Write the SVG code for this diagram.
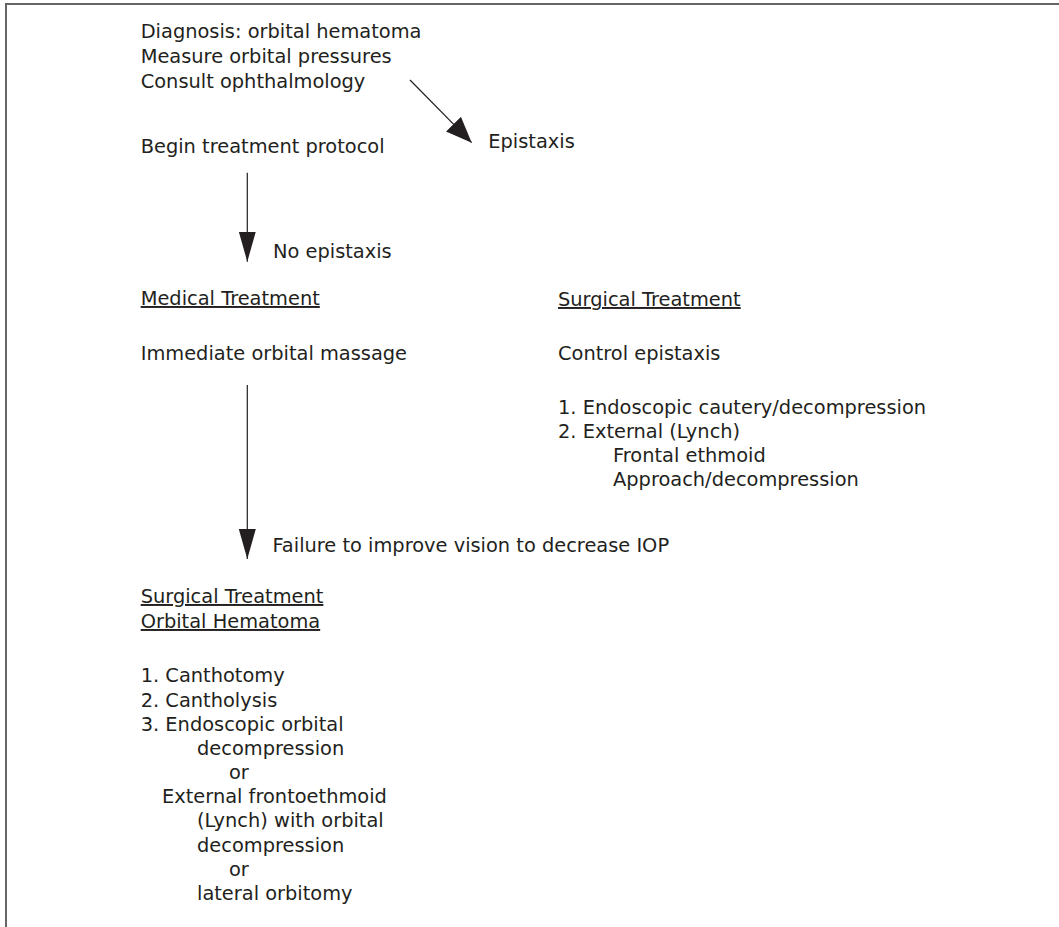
<svg xmlns="http://www.w3.org/2000/svg" width="1059" height="927" viewBox="0 0 1059 927">
<style>
text{font-family:"DejaVu Sans","Noto Sans",sans-serif;font-size:19.4px;fill:#231f20}
.u{text-decoration:underline}
.conn line{stroke:#231f20;stroke-width:1.2}
.head{fill:#231f20}
</style>
<defs>
<marker id="ah" markerUnits="userSpaceOnUse" markerWidth="30" markerHeight="18" refX="30" refY="8.5" orient="auto">
<path class="head" d="M0,0 L30,8.5 L0,17 z"/>
</marker>
<marker id="ah2" markerUnits="userSpaceOnUse" markerWidth="26" markerHeight="21" refX="26" refY="10.5" orient="auto">
<path class="head" d="M0,0 L26,10.5 L0,21 z"/>
</marker>
</defs>
<rect width="1059" height="927" fill="#fff"/>
<g id="frame">
<line x1="5" y1="4" x2="1059" y2="4" stroke="#333" stroke-width="1.5"/>
<line x1="6" y1="4" x2="6" y2="927" stroke="#666" stroke-width="2"/>
</g>
<g id="diagnosis">
<text x="140.7" y="38">Diagnosis: orbital hematoma</text>
<text x="140.7" y="63">Measure orbital pressures</text>
<text x="140.7" y="88">Consult ophthalmology</text>
</g>
<g id="begin"><text x="140.7" y="153">Begin treatment protocol</text></g>
<g id="epistaxis"><text x="488.3" y="148">Epistaxis</text></g>
<g id="no-epistaxis"><text x="273" y="258">No epistaxis</text></g>
<g id="medical">
<text class="u" x="140.7" y="305">Medical Treatment</text>
<text x="140.7" y="360">Immediate orbital massage</text>
</g>
<g id="surgical-epistaxis">
<text class="u" x="558" y="306">Surgical Treatment</text>
<text x="558" y="360">Control epistaxis</text>
<text x="558" y="414">1. Endoscopic cautery/decompression</text>
<text x="558" y="438">2. External (Lynch)</text>
<text x="613" y="462">Frontal ethmoid</text>
<text x="613" y="485.5">Approach/decompression</text>
</g>
<g id="failure"><text x="272.5" y="552">Failure to improve vision to decrease IOP</text></g>
<g id="surgical-hematoma">
<text class="u" x="140.7" y="603">Surgical Treatment</text>
<text class="u" x="140.7" y="628">Orbital Hematoma</text>
<text x="140.7" y="682">1. Canthotomy</text>
<text x="140.7" y="707">2. Cantholysis</text>
<text x="140.7" y="731">3. Endoscopic orbital</text>
<text x="197" y="755">decompression</text>
<text x="229" y="779">or</text>
<text x="162" y="803">External frontoethmoid</text>
<text x="197" y="827">(Lynch) with orbital</text>
<text x="197" y="852">decompression</text>
<text x="229" y="876">or</text>
<text x="197" y="900">lateral orbitomy</text>
</g>
<g id="connectors" class="conn">
<line x1="410" y1="80" x2="471.7" y2="142.7" marker-end="url(#ah2)"/>
<line x1="247.3" y1="172.7" x2="247.3" y2="261.7" marker-end="url(#ah)"/>
<line x1="247.3" y1="385" x2="247.3" y2="559" marker-end="url(#ah)"/>
</g>
</svg>
